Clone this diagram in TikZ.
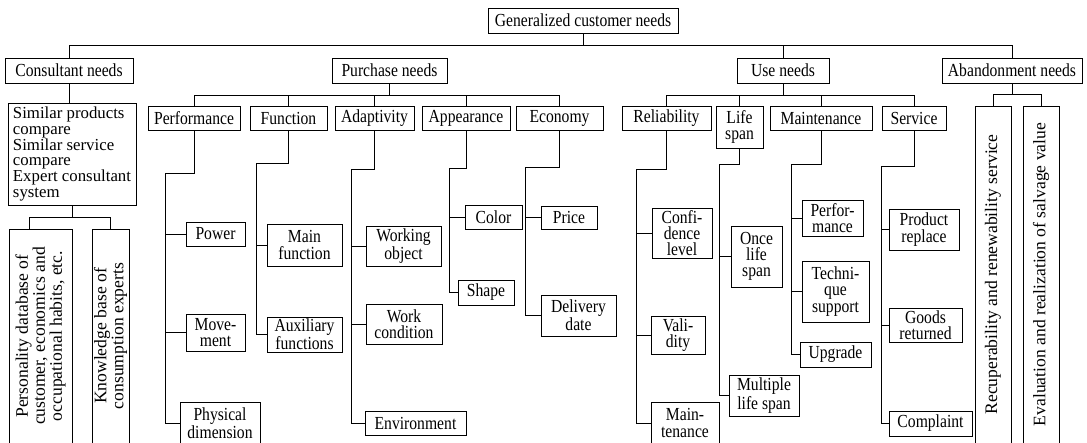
\documentclass[tikz,border=0pt]{standalone}
\usepackage{fontspec}
\setmainfont{Liberation Serif}[FakeStretch=0.85]
\newfontfamily\rotfont{Liberation Serif}
\usetikzlibrary{calc}
\tikzset{
  box/.style={draw, line width=0.7pt, inner sep=0pt, align=center, font=\fontsize{13.8}{12.2}\selectfont},
  rbox/.style={draw, line width=0.7pt, inner sep=0pt, align=center, rotate=90, font=\rotfont\fontsize{13.2}{12.8}\selectfont},
  listbox/.style={draw, line width=0.7pt, align=left, inner sep=0pt, font=\rotfont\fontsize{12.6}{11.9}\selectfont},
  link/.style={line width=0.7pt},
}
\newcommand\mybox[6]{\node[box,minimum width={(#4-#2)*0.75pt},minimum height={(#5-#3)*0.75pt}] (#1) at ({(#2+#4)/2},{(#3+#5)/2}) {#6};}
\newcommand\myrbox[6]{\node[rbox,minimum width={(#5-#3)*0.75pt},minimum height={(#4-#2)*0.75pt}] (#1) at ({(#2+#4)/2},{(#3+#5)/2}) {#6};}
\begin{document}
\begin{tikzpicture}[x=0.75pt,y=-0.75pt]
\useasboundingbox (0,0) rectangle (1087,442);
\clip (0,0) rectangle (1087,442);
\fill[white] (0,0) rectangle (1087,442);
% level 1 and 2
\mybox{gen}{488}{8}{678}{33}{Generalized customer needs}
\mybox{cons}{5}{58}{133}{83}{Consultant needs}
\mybox{purch}{332}{58}{447}{83}{Purchase needs}
\mybox{use}{737}{58}{829}{83}{Use needs}
\mybox{aband}{942}{58}{1082}{83}{Abandonment needs}
% consultant
\node[listbox, minimum width=96pt, minimum height=76.5pt] (simil) at (72,154)
  {Similar products\\compare\\Similar service\\compare\\Expert consultant\\system};
\myrbox{pers}{9}{229}{72}{443}{Personality database of\\customer, economics and\\occupational habits, etc.}
\myrbox{know}{92}{229}{129}{443}{Knowledge base of\\consumption experts}
% purchase
\mybox{perf}{148}{106}{240}{130}{Performance}
\mybox{func}{250}{106}{327}{130}{Function}
\mybox{adapt}{335}{106}{414}{130}{Adaptivity}
\mybox{appear}{422}{106}{510}{130}{Appearance}
\mybox{econ}{516}{106}{603}{130}{Economy}
\mybox{power}{186}{222}{245}{246}{Power}
\mybox{move}{186}{314}{245}{351}{Move-\\ment}
\mybox{phys}{180}{402}{260}{444}{Physical\\dimension}
\mybox{mainf}{267}{224}{342}{266}{Main\\function}
\mybox{auxf}{267}{317}{342}{352}{Auxiliary\\functions}
\mybox{wobj}{366}{226}{441}{266}{Working\\object}
\mybox{wcond}{366}{304}{442}{344}{Work\\condition}
\mybox{env}{365}{411}{466}{435}{Environment}
\mybox{color}{465}{205}{522}{229}{Color}
\mybox{shape}{458}{280}{514}{305}{Shape}
\mybox{price}{541}{206}{597}{229}{Price}
\mybox{deliv}{541}{295}{616}{336}{Delivery\\date}
% use
\mybox{rel}{622}{106}{711}{130}{Reliability}
\mybox{life}{716}{106}{763}{148}{Life\\span}
\mybox{maint}{770}{106}{872}{130}{Maintenance}
\mybox{serv}{882}{106}{946}{130}{Service}
\mybox{conf}{652}{208}{712}{258}{Confi-\\dence\\level}
\mybox{valid}{651}{316}{705}{354}{Vali-\\dity}
\mybox{rmaint}{651}{402}{719}{444}{Main-\\tenance}
\mybox{once}{731}{226}{782}{287}{Once\\life\\span}
\mybox{multi}{729}{375}{799}{416}{Multiple\\life span}
\mybox{mperf}{802}{200}{863}{236}{Perfor-\\mance}
\mybox{tech}{802}{261}{869}{322}{Techni-\\que\\support}
\mybox{upg}{800}{342}{871}{367}{Upgrade}
\mybox{prod}{889}{209}{959}{250}{Product\\replace}
\mybox{goods}{889}{308}{962}{342}{Goods\\returned}
\mybox{compl}{889}{411}{972}{436}{Complaint}
% abandonment
\myrbox{recup}{975}{106}{1011}{443}{Recuperability and renewability service}
\myrbox{eval}{1023}{106}{1059}{443}{Evaluation and realization of salvage value}
% bars
\coordinate (tb) at (0,45);
\coordinate (cb) at (0,217);
\coordinate (pb) at (0,95);
\coordinate (ub) at (0,95);
\coordinate (ab) at (0,94);
% top level
\draw[link] (gen.south) -- (gen.south |- tb);
\draw[link] (cons.north) |- (aband.north |- tb) -- (aband.north);
\draw[link] (use.north) -- (use.north |- tb);
% consultant
\draw[link] (cons.south) -- (cons.south |- simil.north);
\draw[link] (simil.south) -- (simil.south |- cb);
\coordinate (persT) at ($(pers.north east)!0.32!(pers.south east)$);
\draw[link] (persT) |- (know.east |- cb) -- (know.east);
% purchase
\draw[link] (purch.south) -- (purch.south |- pb);
\draw[link] (perf.north) |- (econ.north |- pb) -- (econ.north);
\foreach \n in {func,adapt,appear} \draw[link] (\n.north) -- (\n.north |- pb);
\coordinate (perfJ) at (165,173);
\coordinate (funcJ) at (256,163);
\coordinate (adaptJ) at (351,169);
\coordinate (appJ) at (449,168);
\coordinate (econJ) at (525,167);
\draw[link] (perf.south) |- (perfJ) |- (phys.west);
\draw[link] (perfJ) |- (power.west);
\draw[link] (perfJ) |- (move.west);
\draw[link] (func.south) |- (funcJ) |- (auxf.west);
\draw[link] (funcJ) |- (mainf.west);
\draw[link] (adapt.south) |- (adaptJ) |- (env.west);
\draw[link] (adaptJ) |- (wobj.west);
\draw[link] (adaptJ) |- (wcond.west);
\draw[link] (appear.south) |- (appJ) |- (shape.west);
\draw[link] (appJ) |- (color.west);
\draw[link] (econ.south) |- (econJ) |- (deliv.west);
\draw[link] (econJ) |- (price.west);
% use
\draw[link] (use.south) -- (use.south |- ub);
\draw[link] (rel.north) |- (serv.north |- ub) -- (serv.north);
\foreach \n in {life,maint} \draw[link] (\n.north) -- (\n.north |- ub);
\coordinate (relJ) at (636,169);
\coordinate (lifeJ) at (719,164);
\coordinate (maintJ) at (791,164);
\coordinate (servJ) at (881,166);
\draw[link] (rel.south) |- (relJ) |- (rmaint.west);
\draw[link] (relJ) |- (conf.west);
\draw[link] (relJ) |- (valid.west);
\draw[link] (life.south) |- (lifeJ) |- (multi.west);
\draw[link] (lifeJ) |- (once.west);
\draw[link] (maint.south) |- (maintJ) |- (upg.west);
\draw[link] (maintJ) |- (mperf.west);
\draw[link] (maintJ) |- (tech.west);
\draw[link] (serv.south) |- (servJ) |- (compl.west);
\draw[link] (servJ) |- (prod.west);
\draw[link] (servJ) |- (goods.west);
% abandonment
\draw[link] (aband.south) -- (aband.south |- ab);
\draw[link] (recup.east) |- (eval.east |- ab) -- (eval.east);
\end{tikzpicture}
\end{document}
